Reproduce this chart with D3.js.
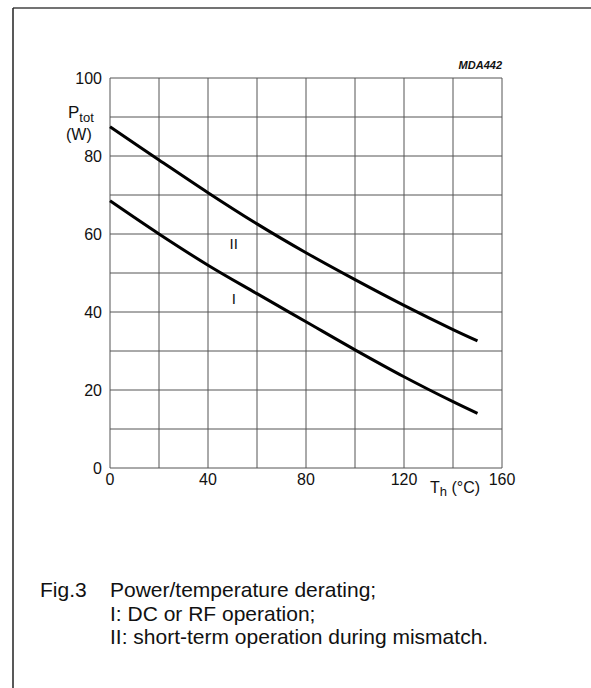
<!DOCTYPE html>
<html>
<head>
<meta charset="utf-8">
<script src="https://cdn.jsdelivr.net/npm/d3@7"></script>
<style>
  body { margin: 0; background: #fff; }
  text { font-family: Arial, "Liberation Sans", sans-serif; fill: #111; }
</style>
</head>
<body>
<div id="chart"></div>
<script>
// Data
var tempI = [0, 20, 40, 60, 80, 100, 120, 140, 150];
var powerI = [68.5, 60, 52, 44.7, 37.5, 30.3, 23.4, 17, 14];

var tempII = [0, 20, 40, 60, 80, 100, 120, 140, 150];
var powerII = [87.5, 79, 70.6, 62.6, 55.2, 48.3, 41.7, 35.5, 32.6];

var xTicks = [0, 40, 80, 120, 160];
var yTicks = [0, 20, 40, 60, 80, 100];
var xGrid = d3.range(0, 161, 20);
var yGrid = d3.range(0, 101, 10);

var captionLines = [
    "Power/temperature derating;",
    "I: DC or RF operation;",
    "II: short-term operation during mismatch."
];

// svg size
var svgWidth = 591;
var svgHeight = 688;

var margin = { top: 78, left: 110 };
var width = 392;
var height = 390;

var svg = d3.select("#chart")
    .append("svg")
    .attr("width", svgWidth)
    .attr("height", svgHeight);

// page frame (top and left edges)
svg.append("line").attr("x1", 13).attr("x2", svgWidth).attr("y1", 8).attr("y2", 8)
    .attr("stroke", "#444").attr("stroke-width", 1.5);
svg.append("line").attr("x1", 13).attr("x2", 13).attr("y1", 8).attr("y2", svgHeight)
    .attr("stroke", "#222").attr("stroke-width", 1.5);

var chartGroup = svg.append("g")
    .attr("transform", `translate(${margin.left}, ${margin.top})`);

var xScale = d3.scaleLinear().domain([0, 160]).range([0, width]);
var yScale = d3.scaleLinear().domain([0, 100]).range([height, 0]);

// grid
chartGroup.selectAll(".vgrid")
    .data(xGrid)
    .enter()
    .append("line")
    .attr("x1", d => xScale(d))
    .attr("x2", d => xScale(d))
    .attr("y1", 0)
    .attr("y2", height)
    .attr("stroke", "#555")
    .attr("stroke-width", 1);

chartGroup.selectAll(".hgrid")
    .data(yGrid)
    .enter()
    .append("line")
    .attr("x1", 0)
    .attr("x2", width)
    .attr("y1", d => yScale(d))
    .attr("y2", d => yScale(d))
    .attr("stroke", "#555")
    .attr("stroke-width", 1);

// tick labels
chartGroup.selectAll(".ylab")
    .data(yTicks)
    .enter()
    .append("text")
    .attr("x", -8)
    .attr("y", d => yScale(d))
    .attr("dy", "0.35em")
    .attr("text-anchor", "end")
    .attr("font-size", 16)
    .text(d => d);

chartGroup.selectAll(".xlab")
    .data(xTicks)
    .enter()
    .append("text")
    .attr("x", d => xScale(d))
    .attr("y", height + 17)
    .attr("text-anchor", "middle")
    .attr("font-size", 16)
    .text(d => d);

// axis titles
var yTitle = chartGroup.append("text")
    .attr("x", -42)
    .attr("y", 40)
    .attr("font-size", 17);
yTitle.append("tspan").text("P");
yTitle.append("tspan").attr("dy", 4).attr("font-size", 13).text("tot");

chartGroup.append("text")
    .attr("x", -44)
    .attr("y", 62)
    .attr("font-size", 16)
    .text("(W)");

var xTitle = chartGroup.append("text")
    .attr("x", 320)
    .attr("y", height + 25)
    .attr("font-size", 16);
xTitle.append("tspan").text("T");
xTitle.append("tspan").attr("dy", 3).attr("font-size", 13).text("h");
xTitle.append("tspan").attr("dy", -3).text(" (°C)");

chartGroup.append("text")
    .attr("x", width)
    .attr("y", -9)
    .attr("text-anchor", "end")
    .attr("font-size", 11)
    .attr("font-style", "italic")
    .attr("font-weight", "bold")
    .text("MDA442");

// curves
var line = d3.line()
    .x(d => xScale(d[0]))
    .y(d => yScale(d[1]))
    .curve(d3.curveCatmullRom);

chartGroup.append("path")
    .datum(d3.zip(tempI, powerI))
    .attr("d", line)
    .attr("fill", "none")
    .attr("stroke", "#000")
    .attr("stroke-width", 3);

chartGroup.append("path")
    .datum(d3.zip(tempII, powerII))
    .attr("d", line)
    .attr("fill", "none")
    .attr("stroke", "#000")
    .attr("stroke-width", 3);

// curve labels
chartGroup.append("text")
    .attr("x", xScale(50.5))
    .attr("y", yScale(57.6))
    .attr("dy", "0.35em")
    .attr("text-anchor", "middle")
    .attr("font-size", 15)
    .text("II");

chartGroup.append("text")
    .attr("x", xScale(50.5))
    .attr("y", yScale(43.5))
    .attr("dy", "0.35em")
    .attr("text-anchor", "middle")
    .attr("font-size", 15)
    .text("I");

// caption
svg.append("text")
    .attr("x", 40)
    .attr("y", 597)
    .attr("font-size", 21)
    .text("Fig.3");

svg.selectAll(".caption")
    .data(captionLines)
    .enter()
    .append("text")
    .attr("x", 110)
    .attr("y", (d, i) => 597 + i * 23.5)
    .attr("font-size", 21)
    .text(d => d);
</script>
</body>
</html>
